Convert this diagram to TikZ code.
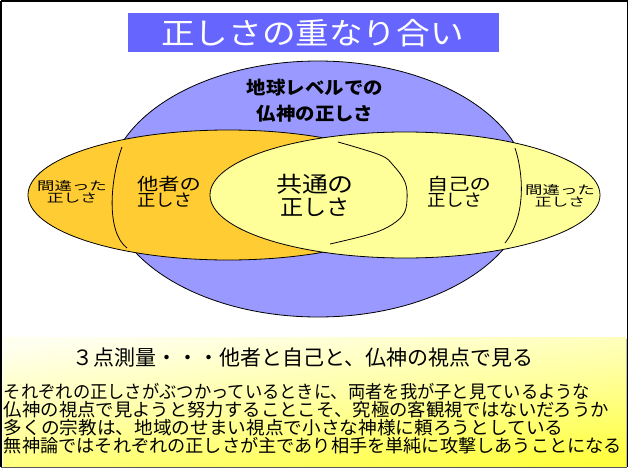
\documentclass[tikz,border=0pt]{standalone}
\usepackage{fontspec}
\setmainfont{Noto Sans CJK JP}
\definecolor{titleblue}{HTML}{6666FF}
\definecolor{earthblue}{HTML}{9999FF}
\definecolor{othersorange}{HTML}{FFCC33}
\definecolor{selfyellow}{HTML}{FFFF99}
\definecolor{paleyellow}{HTML}{FFFFF0}
\definecolor{midyellow}{HTML}{FFFFA0}
\definecolor{deepyellow}{HTML}{FFFF40}
\newcommand\hs[2]{\scalebox{#1}[1]{#2}}
\newcommand\fsz[2]{\fontsize{#1}{#2}\selectfont}
\begin{document}
\begin{tikzpicture}[x=1pt,y=-1pt,
  lbl/.style={inner sep=0pt, outer sep=0pt, text=black},
  ring/.style={draw=black, line width=0.8pt},
  divider/.style={draw=black, line width=0.8pt}]
\useasboundingbox (0,0) rectangle (630,469);
\fill[white] (0,0) rectangle (630,469);
% bottom explanation box
\fill[gray!60] (5,339) rectangle (627,467.5);
\shade[top color=paleyellow, bottom color=deepyellow, middle color=midyellow, shading angle=6]
  (3,337) rectangle (626,466);
% frame
\draw[black, line width=1.5pt] (0.75,0.75) -- (0.75,467.3) (0.75,0.75) -- (627.3,0.75) -- (627.3,467.3);
\draw[gray!70!black, line width=1.2pt] (0.75,467.3) -- (627.3,467.3);
% title
\fill[titleblue] (128,13) rectangle (499,52);
\node[lbl, text=white, font=\fsz{30}{30}] (title) at (312.5,33) {\hs{1.12}{正しさの重なり合い}};
% ellipses
\path[ring, fill=earthblue] (318,189) ellipse [x radius=210, y radius=128];
\path[ring, fill=othersorange] (228,195) ellipse [x radius=200, y radius=65];
\path[ring, fill=selfyellow] (405,195) ellipse [x radius=195, y radius=63];
% dividers
\draw[divider] (122,147) .. controls (110,180) and (106,232) .. (127,248);
\draw[divider] (515,148) .. controls (523,172) and (527,215) .. (505,243);
\draw[divider] plot[smooth, tension=0.6] coordinates {(338,142) (380,155) (393,165) (405,182) (407,200) (403,215) (388,227) (367,235) (330,244)};
% labels
\node[lbl, font=\fsz{18}{26}\bfseries, align=center] (earth) at (315,101)
  {\hs{1.08}{地球レベルでの}\\\hs{1.08}{仏神の正しさ}};
\node[lbl, font=\fsz{22}{23}, align=center] (common) at (315,195)
  {\hs{1.18}{共通の}\\\hs{1.05}{正しさ}};
\node[lbl, font=\fsz{17}{16.5}, align=left, anchor=west] (others) at (137,192)
  {\hs{1.25}{他者の}\\\hs{1.08}{正しさ}};
\node[lbl, font=\fsz{17}{16.5}, align=left, anchor=west] (self) at (427,192)
  {\hs{1.25}{自己の}\\\hs{1.08}{正しさ}};
\node[lbl, font=\fsz{12}{10.5}, align=center] (wrongL) at (72,192)
  {\hs{1.45}{間違った}\\\hs{1.4}{正しさ}};
\node[lbl, font=\fsz{12}{10.5}, align=center] (wrongR) at (560,196)
  {\hs{1.45}{間違った}\\\hs{1.4}{正しさ}};
% bottom texts
\node[lbl, font=\fsz{21}{21}] (heading) at (303,358) {３点測量・・・他者と自己と、仏神の視点で見る};
\node[lbl, font=\fsz{18}{18}, align=left, anchor=west] (para) at (4,419)
  {\hs{0.96}{それぞれの正しさがぶつかっているときに、両者を我が子と見ているような}\\
   \hs{1.02}{仏神の視点で見ようと努力することこそ、究極の客観視ではないだろうか}\\
   \hs{1.037}{多くの宗教は、地域のせまい視点で小さな神様に頼ろうとしている}\\
   \hs{1.01}{無神論ではそれぞれの正しさが主であり相手を単純に攻撃しあうことになる}};
\end{tikzpicture}
\end{document}
